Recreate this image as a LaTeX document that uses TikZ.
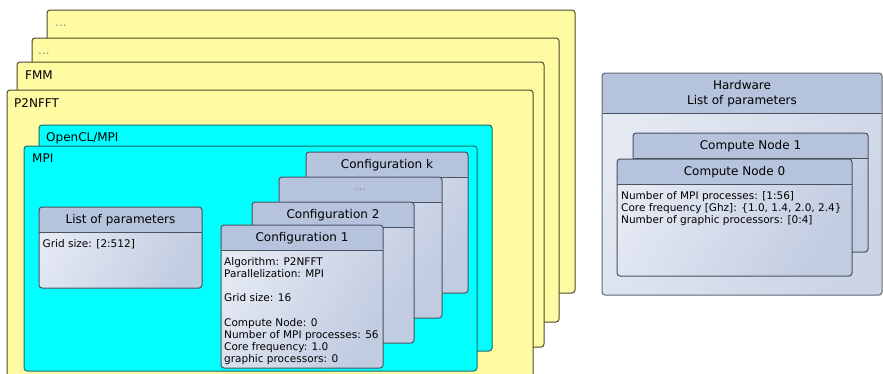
\documentclass[tikz,border=0pt]{standalone}
\usepackage{fontspec}
\setmainfont{DejaVu Sans}
\usepackage{xcolor}
\usepackage{tikz}
\usetikzlibrary{positioning}
\definecolor{yelF}{HTML}{FFFBA3}
\definecolor{yelD}{HTML}{4E4A2C}
\definecolor{cyaF}{HTML}{00FFFF}
\definecolor{cyaD}{HTML}{1E6B6B}
\definecolor{hdrF}{HTML}{B6C3DC}
\definecolor{bodL}{HTML}{E4E9F3}
\definecolor{bodD}{HTML}{C2CCE1}
\definecolor{hwL}{HTML}{E4E9F2}
\definecolor{hwD}{HTML}{CCD5E7}
\definecolor{edgeC}{HTML}{4A5260}
\definecolor{edgeL}{HTML}{5E6672}
\definecolor{dotsC}{HTML}{8A8F99}

\begin{document}
\begin{tikzpicture}[
  x=1pt, y=-1pt,
  layer/.style ={draw=yelD, fill=yelF, rounded corners=3pt, line width=1pt,
                 inner sep=0pt, outer sep=0pt, anchor=north west},
  group/.style ={layer, draw=cyaD, fill=cyaF},
  card/.style  ={draw=edgeC, rounded corners=3pt, line width=1pt,
                 inner sep=0pt, outer sep=0pt, anchor=north west,
                 left color=bodL, right color=bodD, shading angle=60,
                 path picture={
                   \fill[hdrF] (path picture bounding box.north west) rectangle
                     ([yshift=-#1]path picture bounding box.north east);
                   \draw[edgeC, line width=1pt]
                     ([yshift=-#1]path picture bounding box.north west) --
                     ([yshift=-#1]path picture bounding box.north east);}},
  card/.default=25pt,
  ttl/.style   ={font=\fontsize{12}{15}\selectfont, inner sep=0pt,
                 minimum height=#1, align=center},
  ttl/.default=25pt,
  body/.style  ={font=\fontsize{10.5}{12.1}\selectfont, inner sep=0pt,
                 align=left, anchor=north west},
  lbl/.style   ={font=\fontsize{12}{15}\selectfont, inner sep=0pt,
                 anchor=base west},
  dots/.style  ={text=dotsC},
]
\useasboundingbox (0,0) rectangle (883,373);

% ---- algorithm layers -------------------------------------------------------
\node[layer, minimum width=528pt, minimum height=283pt] (layD) at (47,10) {};
\node[lbl, dots] (layDt) at ([xshift=8pt,yshift=-16pt]layD.north west) {...};
\node[layer, minimum width=527pt, minimum height=284pt] (layC) at (32,38) {};
\node[lbl, dots] (layCt) at ([xshift=6pt,yshift=-16pt]layC.north west) {...};
\node[layer, minimum width=527pt, minimum height=285pt] (layB) at (17,62) {};
\node[lbl] (layBt) at ([xshift=8pt,yshift=-17.5pt]layB.north west) {FMM};
\node[layer, minimum width=526pt, minimum height=300pt] (layA) at (7,90) {};
\node[lbl] (layAt) at ([xshift=7pt,yshift=-17.5pt]layA.north west) {P2NFFT};

% ---- parallelization groups -------------------------------------------------
\node[group, minimum width=453pt, minimum height=226pt] (ocl) at (39,125) {};
\node[lbl] (oclt) at ([xshift=7pt,yshift=-16.5pt]ocl.north west) {OpenCL/MPI};
\node[group, minimum width=453pt, minimum height=225pt] (mpi) at (24,146) {};
\node[lbl] (mpit) at ([xshift=8pt,yshift=-16.5pt]mpi.north west) {MPI};

% ---- parameter list ---------------------------------------------------------
\node[card, minimum width=163pt, minimum height=81pt] (lop) at (39,207) {};
\node[ttl, below=0pt of lop.north] (loph) {List of parameters};
\node[body] (lopb) at ([xshift=3.5pt,yshift=-32pt]lop.north west)
  {Grid size: [2:512]};

% ---- configurations ---------------------------------------------------------
\node[card, minimum width=162pt, minimum height=141pt] (cfgK) at (306,152) {};
\node[ttl, below=0pt of cfgK.north] (cfgKh) {Configuration k};
\node[card, minimum width=163pt, minimum height=141pt] (cfgD) at (279,177) {};
\node[ttl, dots, below=0pt of cfgD.north] (cfgDh) {...};
\node[card, minimum width=162pt, minimum height=141pt] (cfg2) at (252,202) {};
\node[ttl, below=0pt of cfg2.north] (cfg2h) {Configuration 2};
\node[card, minimum width=162pt, minimum height=143pt] (cfg1) at (221,225) {};
\node[ttl, below=0pt of cfg1.north] (cfg1h) {Configuration 1};
\node[body] (cfg1b) at ([xshift=3pt,yshift=-32.5pt]cfg1.north west)
  {Algorithm: P2NFFT\\
   Parallelization: MPI\\[12.1pt]
   Grid size: 16\\[12.1pt]
   Compute Node: 0\\
   Number of MPI processes: 56\\
   Core frequency: 1.0\\
   graphic processors: 0};

% ---- hardware ---------------------------------------------------------------
\node[card=40pt, draw=edgeL, left color=hwL, right color=hwD, shading angle=60,
      minimum width=280pt, minimum height=222pt] (hw) at (602,73) {};
\node[ttl=40pt, below=0pt of hw.north] (hwh) {Hardware\\List of parameters};
\node[card, minimum width=235pt, minimum height=119pt] (cn1) at (633,133) {};
\node[ttl, below=0pt of cn1.north] (cn1h) {Compute Node 1};
\node[card, minimum width=235pt, minimum height=117pt] (cn0) at (617,159) {};
\node[ttl, below=0pt of cn0.north] (cn0h) {Compute Node 0};
\node[body] (cn0b) at ([xshift=4pt,yshift=-32pt]cn0.north west)
  {Number of MPI processes: [1:56]\\
   Core frequency [Ghz]: \{1.0, 1.4, 2.0, 2.4\}\\
   Number of graphic processors: [0:4]};

\end{tikzpicture}
\end{document}
